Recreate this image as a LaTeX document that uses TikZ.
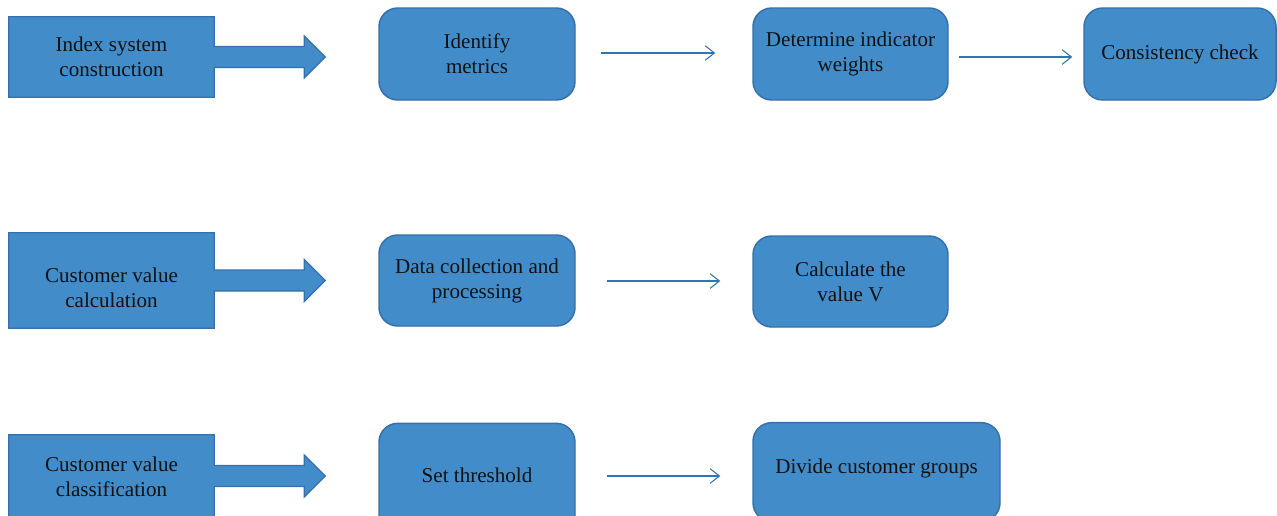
\documentclass[tikz,border=0pt]{standalone}
\usepackage{fontspec}
\setmainfont{Liberation Serif}
\usetikzlibrary{calc,arrows.meta}
\definecolor{boxfill}{RGB}{67,140,202}
\definecolor{boxline}{RGB}{52,112,172}
\definecolor{linkline}{RGB}{46,117,182}
\definecolor{ink}{RGB}{17,17,17}
\tikzset{
  label text/.style={align=center, text=ink, font=\fontsize{15.8}{18.75}\selectfont},
  stagebox/.style={label text, fill=boxfill, draw=boxline, line width=1.1pt,
    rounded corners=14pt, inner sep=0pt},
  phasebox/.style={fill=boxfill, draw=none, minimum width=153.75pt, inner sep=0pt},
  phaseedge/.style={fill=boxfill, draw=boxline, line width=0.9pt, line join=miter},
  link/.style={draw=linkline, line width=0.8pt,
    -{Straight Barb[length=7pt,width=11pt,line width=0.8pt]}}
}
\begin{document}
\begin{tikzpicture}[x=0.75pt, y=-0.75pt]
\useasboundingbox (0,0) rectangle (1277,515);
\clip (0,0) rectangle (1277,515);

% row 1: index system construction
\node[phasebox, minimum height=60pt] (p1) at (111.5,57) {};
\path[phaseedge] (p1.north west) -- (p1.north east) -- ($(p1.east)+(0,-10.5)$)
    -- ++(90,0) -- ++(0,-10.5) -- ($(p1.east)+(111,0)$) -- ++(-21,21)
    -- ++(0,-10.5) -- ($(p1.east)+(0,10.5)$) -- (p1.south east) -- (p1.south west) -- cycle;
\node[label text] (t1) at (111.5,57) {Index system\\construction};

\node[stagebox, minimum width=147pt, minimum height=69pt] (b11) at (477,54) {Identify\\metrics};
\node[stagebox, minimum width=146.25pt, minimum height=69pt] (b12) at (850.5,54) {Determine indicator\\weights};
\node[stagebox, minimum width=144pt, minimum height=69pt] (b13) at (1180,54) {Consistency check};
\draw[link] ($(b11.east)+(25,-1)$) -- ($(b12.west)+(-37,-1)$);
\draw[link] ($(b12.east)+(10,3)$) -- ($(b13.west)+(-11,3)$);

% row 2: customer value calculation
\node[phasebox, minimum height=71.25pt] (p2) at (111.5,280.5) {};
\path[phaseedge] (p2.north west) -- (p2.north east) -- ($(p2.east)+(0,-10.5)$)
    -- ++(90,0) -- ++(0,-10.5) -- ($(p2.east)+(111,0)$) -- ++(-21,21)
    -- ++(0,-10.5) -- ($(p2.east)+(0,10.5)$) -- (p2.south east) -- (p2.south west) -- cycle;
\node[label text] (t2) at (111.5,288) {Customer value\\calculation};

\node[stagebox, minimum width=147pt, minimum height=68.25pt] (b21) at (477,280.5) {Data collection and\\processing};
\node[stagebox, minimum width=146.25pt, minimum height=68.25pt] (b22) at (850.5,281.5) {Calculate the\\value V};
\draw[link] ($(b21.east)+(31,0.5)$) -- ($(b22.west)+(-32,-0.5)$);

% row 3: customer value classification
\node[phasebox, minimum height=61.5pt] (p3) at (111.5,476) {};
\path[phaseedge] (p3.north west) -- (p3.north east) -- ($(p3.east)+(0,-10.5)$)
    -- ++(90,0) -- ++(0,-10.5) -- ($(p3.east)+(111,0)$) -- ++(-21,21)
    -- ++(0,-10.5) -- ($(p3.east)+(0,10.5)$) -- (p3.south east) -- (p3.south west) -- cycle;
\node[label text] (t3) at (111.5,477) {Customer value\\classification};

\node[stagebox, minimum width=147pt, minimum height=85pt, text depth=0pt] (b31) at (477,480) {};
\node[label text] (t31) at (477,475) {Set threshold};
\node[stagebox, minimum width=185.25pt, minimum height=74pt] (b32) at (876.5,472) {};
\node[label text] (t32) at (876.5,468) {Divide customer groups};
\draw[link] ($(b31.east)+(31,-4)$) -- ($(b32.west)+(-32,4)$);
\end{tikzpicture}
\end{document}
